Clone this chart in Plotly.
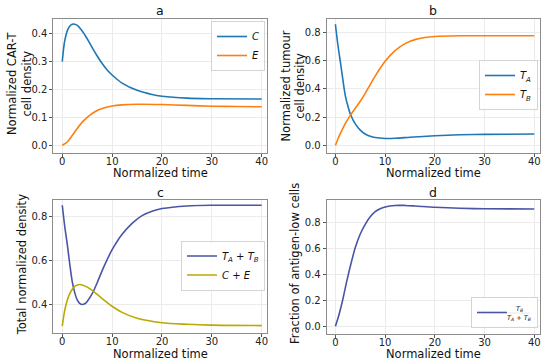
import plotly.graph_objects as go

# ---------------- data ----------------
t_C = [0, 0.25, 0.5, 1, 1.5, 2, 2.5, 3, 4, 5, 6, 7, 8, 9, 10, 12, 15, 18, 20, 25, 30, 40]
C = [0.300, 0.345, 0.375, 0.410, 0.427, 0.434, 0.434, 0.430, 0.410, 0.382, 0.350, 0.320,
     0.293, 0.270, 0.252, 0.223, 0.197, 0.182, 0.176, 0.169, 0.167, 0.166]
t_E = [0, 1, 2, 3, 4, 5, 6, 7, 8, 10, 12, 15, 20, 25, 30, 35, 40]
E = [0.000, 0.012, 0.035, 0.060, 0.083, 0.100, 0.114, 0.125, 0.132, 0.141, 0.145, 0.147,
     0.146, 0.143, 0.140, 0.139, 0.138]

t_TA = [0, 0.5, 1, 1.5, 2, 2.5, 3, 4, 5, 6, 7, 8, 10, 12, 15, 20, 25, 30, 40]
TA = [0.857, 0.710, 0.590, 0.465, 0.350, 0.280, 0.222, 0.152, 0.108, 0.080, 0.064, 0.055,
      0.049, 0.050, 0.057, 0.068, 0.075, 0.078, 0.080]
t_TB = [0, 0.5, 1, 1.5, 2, 3, 4, 5, 6, 7, 8, 9, 10, 12, 14, 16, 18, 20, 25, 30, 40]
TB = [0.000, 0.045, 0.085, 0.120, 0.155, 0.212, 0.262, 0.312, 0.368, 0.430, 0.490, 0.545,
      0.595, 0.670, 0.720, 0.748, 0.763, 0.770, 0.775, 0.776, 0.775]

t_tot = [0, 0.5, 1, 1.5, 2, 2.5, 3, 3.5, 4, 4.5, 5, 6, 7, 8, 9, 10, 12, 14, 16, 18, 20, 25, 30, 40]
T_sum = [0.852, 0.755, 0.675, 0.585, 0.505, 0.455, 0.422, 0.406, 0.401, 0.404, 0.415, 0.450,
         0.500, 0.555, 0.605, 0.650, 0.720, 0.770, 0.805, 0.825, 0.837, 0.849, 0.852, 0.852]
t_ce = [0, 0.5, 1, 1.5, 2, 2.5, 3, 3.5, 4, 5, 6, 7, 8, 10, 12, 15, 20, 25, 30, 40]
CE_sum = [0.303, 0.375, 0.420, 0.450, 0.470, 0.483, 0.490, 0.492, 0.490, 0.480, 0.465, 0.447,
          0.428, 0.393, 0.365, 0.338, 0.318, 0.311, 0.307, 0.305]

t_frac = [0, 0.5, 1, 1.5, 2, 2.5, 3, 4, 5, 6, 7, 8, 9, 10, 12, 14, 16, 20, 25, 30, 40]
frac = [0.000, 0.060, 0.130, 0.210, 0.300, 0.385, 0.465, 0.610, 0.715, 0.790, 0.848, 0.888,
        0.910, 0.924, 0.936, 0.936, 0.932, 0.922, 0.914, 0.910, 0.908]

x_ticks = [0, 10, 20, 30, 40]
y_ticks_a = [0.0, 0.1, 0.2, 0.3, 0.4]
y_ticks_b = [0.0, 0.2, 0.4, 0.6, 0.8]
y_ticks_c = [0.4, 0.6, 0.8]
y_ticks_d = [0.0, 0.2, 0.4, 0.6, 0.8]

# ---------------- styling ----------------
W, H = 550, 363
FONT = "DejaVu Sans"
BLUE, ORANGE = "#1f77b4", "#ff7f0e"
SLATE, OLIVE = "#4a55a5", "#bba800"


def xd(l, r):
    return [l / W, r / W]


def yd(top, bottom):
    return [1 - bottom / H, 1 - top / H]


fig = go.Figure()

def add(x, y, name, color, xa, ya, legend):
    fig.add_trace(go.Scatter(x=x, y=y, name=name, mode="lines",
                             line=dict(color=color, width=1.6, shape="spline", smoothing=0.8),
                             xaxis=xa, yaxis=ya, legend=legend))

add(t_C, C, "<i>C</i>", BLUE, "x", "y", "legend")
add(t_E, E, "<i>E</i>", ORANGE, "x", "y", "legend")
add(t_TA, TA, "<i>T<sub>A</sub></i>", BLUE, "x2", "y2", "legend2")
add(t_TB, TB, "<i>T<sub>B</sub></i>", ORANGE, "x2", "y2", "legend2")
add(t_tot, T_sum, "<i>T<sub>A</sub></i> + <i>T<sub>B</sub></i>", SLATE, "x3", "y3", "legend3")
add(t_ce, CE_sum, "<i>C</i> + <i>E</i>", OLIVE, "x3", "y3", "legend3")
add(t_frac, frac, "\u00a0" * 6, SLATE, "x4", "y4", "legend4")

common_axis = dict(showline=True, mirror=True, linecolor="#8c8c8c", linewidth=1,
                   ticks="outside", ticklen=3, tickcolor="#555", tickwidth=1,
                   showgrid=True, gridcolor="#ebebeb", gridwidth=0.8, zeroline=False,
                   tickfont=dict(family=FONT, size=10, color="#222"))
title_font = dict(family=FONT, size=11.5, color="#111")

def xaxis(domain, rng, anchor):
    return dict(common_axis, domain=domain, range=rng, anchor=anchor, tickvals=x_ticks,
                ticklabelstandoff=-4)

def yaxis(domain, rng, anchor, ticks):
    return dict(common_axis, domain=domain, range=rng, anchor=anchor, tickvals=ticks,
                tickformat=".1f")

fig.update_layout(
    width=W, height=H, margin=dict(l=0, r=0, t=0, b=0),
    paper_bgcolor="white", plot_bgcolor="white",
    font=dict(family=FONT, size=10),
    xaxis=xaxis(xd(53.3, 266.7), [-1.8, 41.0], "y"),
    yaxis=yaxis(yd(19, 152.7), [-0.0265, 0.4527], "x", y_ticks_a),
    xaxis2=xaxis(xd(326.7, 540), [-1.75, 41.15], "y2"),
    yaxis2=yaxis(yd(19, 152.7), [-0.052, 0.894], "x2", y_ticks_b),
    xaxis3=xaxis(xd(53.3, 266.7), [-1.8, 41.0], "y3"),
    yaxis3=yaxis(yd(200, 333.3), [0.27, 0.876], "x3", y_ticks_c),
    xaxis4=xaxis(xd(326.7, 540), [-1.75, 41.15], "y4"),
    yaxis4=yaxis(yd(200, 333.7), [-0.057, 0.978], "x4", y_ticks_d),
)

leg_common = dict(bgcolor="rgba(255,255,255,0.85)", bordercolor="#d4d4d4", borderwidth=1,
                  font=dict(family=FONT, size=10, color="#111"), xref="paper", yref="paper")
fig.update_layout(
    legend=dict(leg_common, x=265 / W, y=1 - 21 / H, xanchor="right", yanchor="top"),
    legend2=dict(leg_common, x=538 / W, y=1 - 85 / H, xanchor="right", yanchor="middle"),
    legend3=dict(leg_common, x=265 / W, y=1 - 265.5 / H, xanchor="right", yanchor="middle"),
    legend4=dict(leg_common, x=538 / W, y=1 - 328 / H, xanchor="right", yanchor="bottom"),
)

# panel titles
for txt, cx, cy in [("a", 160, 11), ("b", 433.3, 11), ("c", 160, 192), ("d", 433.3, 192)]:
    fig.add_annotation(text=txt, x=cx / W, y=1 - cy / H, xref="paper", yref="paper",
                       showarrow=False, xanchor="center", yanchor="middle",
                       font=dict(family=FONT, size=12.5, color="#111"))

# axis titles
for txt, cx, cy, ang in [("Normalized CAR-T<br>cell density", 19, 84, -90),
                         ("Normalized tumour<br>cell density", 293.5, 86, -90),
                         ("Total normalized density", 22.3, 265, -90),
                         ("Fraction of antigen-low cells", 295, 264, -90),
                         ("Normalized time", 160, 172.7, 0),
                         ("Normalized time", 433.3, 172.7, 0),
                         ("Normalized time", 160, 353.7, 0),
                         ("Normalized time", 433.3, 353.7, 0)]:
    fig.add_annotation(text=txt, x=cx / W, y=1 - cy / H, xref="paper", yref="paper",
                       showarrow=False, xanchor="center", yanchor="middle", textangle=ang,
                       font=title_font)

# fraction label for legend of panel d
frac_font = dict(family=FONT, size=6.5, color="#111")
fig.add_annotation(text="<i>T<sub>B</sub></i>", x=519 / W, y=1 - 309 / H, xref="paper",
                   yref="paper", showarrow=False, xanchor="center", yanchor="middle",
                   font=frac_font)
fig.add_annotation(text="<i>T<sub>A</sub></i> + <i>T<sub>B</sub></i>", x=519 / W,
                   y=1 - 317.5 / H, xref="paper", yref="paper", showarrow=False,
                   xanchor="center", yanchor="middle", font=frac_font)
fig.add_shape(type="line", xref="paper", yref="paper", x0=508 / W, x1=530 / W,
              y0=1 - 313 / H, y1=1 - 313 / H, line=dict(color="#111", width=0.7))

fig.write_html("out.html", config={"displayModeBar": False},
               post_script="document.body.style.margin='0';")
